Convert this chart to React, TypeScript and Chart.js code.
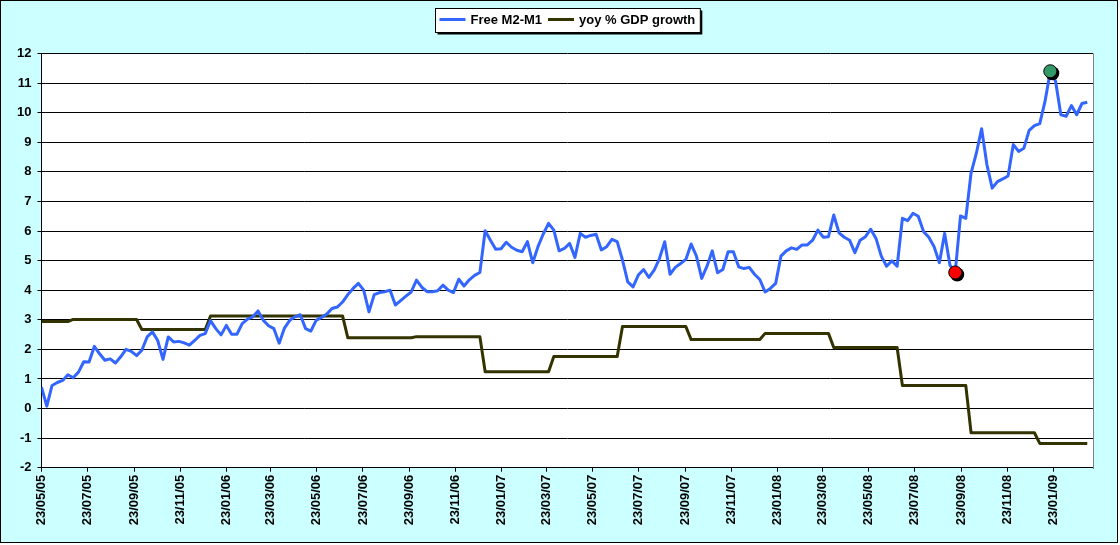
import React, { useEffect, useRef } from "react";
import { Chart, registerables } from "chart.js";

Chart.register(...registerables);

// ---------------- data ----------------
const seriesStartDate = "23/05/05"; // first weekly observation
const axisEndDate = "17/03/09"; // right end of the date axis
const weekDays = 7;

const xTickLabels = [
  "23/05/05", "23/07/05", "23/09/05", "23/11/05",
  "23/01/06", "23/03/06", "23/05/06", "23/07/06", "23/09/06", "23/11/06",
  "23/01/07", "23/03/07", "23/05/07", "23/07/07", "23/09/07", "23/11/07",
  "23/01/08", "23/03/08", "23/05/08", "23/07/08", "23/09/08", "23/11/08",
  "23/01/09",
];

const m2m1Name = "Free M2-M1";
const gdpName = "yoy % GDP growth";

// weekly values of Free M2-M1
const m2m1Values = [
  0.72, 0.08, 0.78, 0.88, 0.95, 1.14, 1.04, 1.23, 1.58, 1.57,
  2.1, 1.85, 1.63, 1.68, 1.54, 1.75, 2.0, 1.93, 1.79, 1.97,
  2.42, 2.59, 2.3, 1.66, 2.42, 2.25, 2.27, 2.22, 2.14, 2.3,
  2.47, 2.53, 2.97, 2.7, 2.49, 2.81, 2.51, 2.51, 2.87, 3.02,
  3.1, 3.3, 2.98, 2.8, 2.7, 2.21, 2.72, 2.98, 3.1, 3.17,
  2.7, 2.62, 2.98, 3.08, 3.19, 3.38, 3.43, 3.6, 3.85, 4.06,
  4.23, 4.0, 3.27, 3.85, 3.92, 3.95, 4.0, 3.5, 3.65, 3.8,
  3.94, 4.34, 4.1, 3.95, 3.95, 3.98, 4.17, 4.0, 3.92, 4.37,
  4.14, 4.35, 4.5, 4.6, 6.01, 5.69, 5.38, 5.4, 5.62, 5.45,
  5.35, 5.3, 5.64, 4.93, 5.47, 5.9, 6.26, 6.03, 5.33, 5.41,
  5.58, 5.11, 5.92, 5.79, 5.85, 5.89, 5.36, 5.47, 5.72, 5.64,
  5.02, 4.28, 4.11, 4.51, 4.7, 4.43, 4.68, 5.07, 5.64, 4.54,
  4.77, 4.9, 5.04, 5.56, 5.15, 4.4, 4.81, 5.33, 4.59, 4.7,
  5.3, 5.3, 4.79, 4.73, 4.77, 4.54, 4.36, 3.94, 4.06, 4.23,
  5.15, 5.33, 5.43, 5.38, 5.53, 5.53, 5.69, 6.03, 5.79, 5.81,
  6.54, 5.94, 5.79, 5.69, 5.27, 5.69, 5.81, 6.06, 5.75, 5.15,
  4.81, 4.99, 4.81, 6.43, 6.35, 6.6, 6.5, 5.98, 5.79, 5.47,
  4.93, 5.92, 4.85, 4.6, 6.51, 6.43, 7.96, 8.63, 9.46, 8.24,
  7.45, 7.67, 7.76, 7.86, 8.92, 8.69, 8.8, 9.4, 9.56, 9.63,
  10.38, 11.4, 11.06, 9.93, 9.88, 10.24, 9.93, 10.31, 10.35,
];

// yoy GDP growth: week index at which each new quarterly value starts, and the value
const gdpChangeWeeks = [0, 6, 19, 32, 58, 71, 84, 97, 110, 123, 137, 150, 163, 176, 189];
const gdpValues = [2.94, 3.01, 2.67, 3.13, 2.39, 2.43, 1.24, 1.76, 2.77, 2.33, 2.54, 2.06, 0.78, -0.82, -1.18];

// highlighted observations (week indexes into m2m1Values)
const lowMarkWeek = 173;
const highMarkWeek = 191;

const yMin = -2;
const yMax = 12;
const yStep = 1;

// ---------------- helpers ----------------
const FONT = '"Liberation Sans", Arial, Helvetica, sans-serif';

function parseDmy(s: string): number {
  const [d, m, y] = s.split("/").map(Number);
  return Date.UTC(2000 + y, m - 1, d);
}
function dayOffset(s: string): number {
  return Math.round((parseDmy(s) - parseDmy(seriesStartDate)) / 86400000);
}

const tickDays = xTickLabels.map(dayOffset);
const labelByDay = new Map<number, string>();
xTickLabels.forEach((l, i) => labelByDay.set(tickDays[i], l));

const m2m1Points = m2m1Values.map((v, k) => ({ x: k * weekDays, y: v }));

const gdpPoints: { x: number; y: number }[] = [];
gdpChangeWeeks.forEach((start, i) => {
  const end = i + 1 < gdpChangeWeeks.length ? gdpChangeWeeks[i + 1] - 1 : m2m1Values.length - 1;
  gdpPoints.push({ x: start * weekDays, y: gdpValues[i] });
  gdpPoints.push({ x: end * weekDays, y: gdpValues[i] });
});

// ---------------- plugins ----------------
const plotAreaPlugin = {
  id: "plotAreaBg",
  beforeDraw(chart: any) {
    const { ctx, chartArea } = chart;
    ctx.save();
    ctx.fillStyle = "#FFFFFF";
    ctx.fillRect(chartArea.left, chartArea.top, chartArea.right - chartArea.left, chartArea.bottom - chartArea.top);
    ctx.restore();
  },
  beforeDatasetsDraw(chart: any) {
    const { ctx, chartArea } = chart;
    ctx.save();
    ctx.strokeStyle = "#808080";
    ctx.lineWidth = 1;
    const x = Math.round(chartArea.right) + 0.5;
    ctx.beginPath();
    ctx.moveTo(x, Math.round(chartArea.top));
    ctx.lineTo(x, Math.round(chartArea.bottom) + 1);
    ctx.stroke();
    ctx.restore();
  },
};

const markerShadowPlugin = {
  id: "markerShadow",
  beforeDatasetDraw(chart: any, args: any) {
    const ds: any = chart.data.datasets[args.index];
    if (!ds.shadowed) return;
    const { ctx } = chart;
    ctx.save();
    ctx.fillStyle = "#000000";
    args.meta.data.forEach((el: any) => {
      const r = (el.options && el.options.radius) || 6;
      ctx.beginPath();
      ctx.arc(el.x + 2, el.y + 2, r + 0.5, 0, Math.PI * 2);
      ctx.fill();
    });
    ctx.restore();
  },
};

const boxLegendPlugin = {
  id: "boxLegend",
  afterDraw(chart: any) {
    const { ctx, chartArea } = chart;
    const items = chart.data.datasets.filter((d: any) => d.inLegend);
    ctx.save();
    ctx.font = `bold 13px ${FONT}`;
    const padL = 4;
    const padR = 5;
    const lineW = 26;
    const gap = 5;
    const itemGap = 6;
    const widths = items.map((d: any) => ctx.measureText(d.label).width);
    const total =
      padL + padR + widths.reduce((a: number, w: number) => a + lineW + gap + w, 0) + itemGap * (items.length - 1);
    const h = 24;
    const x0 = Math.round((chartArea.left + chartArea.right) / 2 - total / 2) + 0.5;
    const y0 = 7.5;
    ctx.fillStyle = "#000000";
    ctx.fillRect(x0 + 2, y0 + 2, total, h);
    ctx.fillStyle = "#FFFFFF";
    ctx.fillRect(x0, y0, total, h);
    ctx.strokeStyle = "#000000";
    ctx.lineWidth = 1;
    ctx.strokeRect(x0, y0, total, h);
    let x = x0 + padL;
    const midY = y0 + 11;
    items.forEach((d: any, i: number) => {
      ctx.strokeStyle = d.borderColor;
      ctx.lineWidth = 3;
      ctx.beginPath();
      ctx.moveTo(x, midY);
      ctx.lineTo(x + lineW, midY);
      ctx.stroke();
      x += lineW + gap;
      ctx.fillStyle = "#000000";
      ctx.textAlign = "left";
      ctx.textBaseline = "alphabetic";
      ctx.fillText(d.label, x, y0 + 15.5);
      x += widths[i] + itemGap;
    });
    ctx.restore();
  },
};

// ---------------- component ----------------
export default function App() {
  const canvasRef = useRef<HTMLCanvasElement | null>(null);

  useEffect(() => {
    document.body.style.margin = "0";
    const canvas = canvasRef.current;
    if (!canvas) return;
    const tickFont = { family: FONT, size: 13, weight: "bold" as const };

    const chart = new Chart(canvas, {
      type: "line",
      data: {
        datasets: [
          {
            label: m2m1Name,
            data: m2m1Points,
            borderColor: "#3366FF",
            backgroundColor: "#3366FF",
            borderWidth: 3,
            pointRadius: 0,
            tension: 0,
            borderJoinStyle: "round",
            order: 1,
            inLegend: true,
          } as any,
          {
            label: gdpName,
            data: gdpPoints,
            borderColor: "#333300",
            backgroundColor: "#333300",
            borderWidth: 3,
            pointRadius: 0,
            tension: 0,
            borderJoinStyle: "round",
            order: 2,
            inLegend: true,
          } as any,
          {
            label: "low",
            data: [m2m1Points[lowMarkWeek]],
            showLine: false,
            pointRadius: 6.5,
            pointBackgroundColor: "#FF0000",
            pointBorderColor: "#000000",
            pointBorderWidth: 1,
            order: 0,
            shadowed: true,
          } as any,
          {
            label: "high",
            data: [m2m1Points[highMarkWeek]],
            showLine: false,
            pointRadius: 6.5,
            pointBackgroundColor: "#339966",
            pointBorderColor: "#000000",
            pointBorderWidth: 1,
            order: 0,
            shadowed: true,
          } as any,
        ],
      },
      options: {
        animation: false,
        responsive: false,
        events: [],
        layout: { padding: { top: 52.5, right: 23.7, bottom: 0, left: 0 } },
        plugins: {
          legend: { display: false },
          tooltip: { enabled: false },
        },
        scales: {
          x: {
            type: "linear",
            min: 0,
            max: dayOffset(axisEndDate),
            afterBuildTicks: (scale: any) => {
              scale.ticks = tickDays.map((v) => ({ value: v }));
            },
            afterFit: (scale: any) => {
              scale.height = 74.3;
            },
            ticks: {
              autoSkip: false,
              minRotation: 90,
              maxRotation: 90,
              padding: 3,
              color: "#000000",
              font: tickFont,
              callback: (v: any) => labelByDay.get(Number(v)) ?? "",
            },
            grid: {
              display: true,
              drawOnChartArea: false,
              drawTicks: true,
              tickLength: 4,
              color: "#000000",
              lineWidth: 1,
            },
            border: { display: true, color: "#000000", width: 1 },
          },
          y: {
            type: "linear",
            min: yMin,
            max: yMax,
            afterFit: (scale: any) => {
              scale.width = 40.5;
            },
            ticks: {
              stepSize: yStep,
              padding: 6,
              color: "#000000",
              font: tickFont,
            },
            grid: {
              display: true,
              drawOnChartArea: true,
              drawTicks: true,
              tickLength: 4,
              color: "#000000",
              lineWidth: 1,
            },
            border: { display: true, color: "#000000", width: 1 },
          },
        },
      } as any,
      plugins: [plotAreaPlugin, markerShadowPlugin, boxLegendPlugin],
    });

    return () => {
      chart.destroy();
    };
  }, []);

  return (
    <div
      style={{
        position: "fixed",
        left: 0,
        top: 0,
        width: 1118,
        height: 543,
        boxSizing: "border-box",
        border: "1px solid #000000",
        background: "#CCFFFF",
      }}
    >
      <canvas ref={canvasRef} width={1116} height={541} style={{ display: "block", width: 1116, height: 541 }} />
    </div>
  );
}
